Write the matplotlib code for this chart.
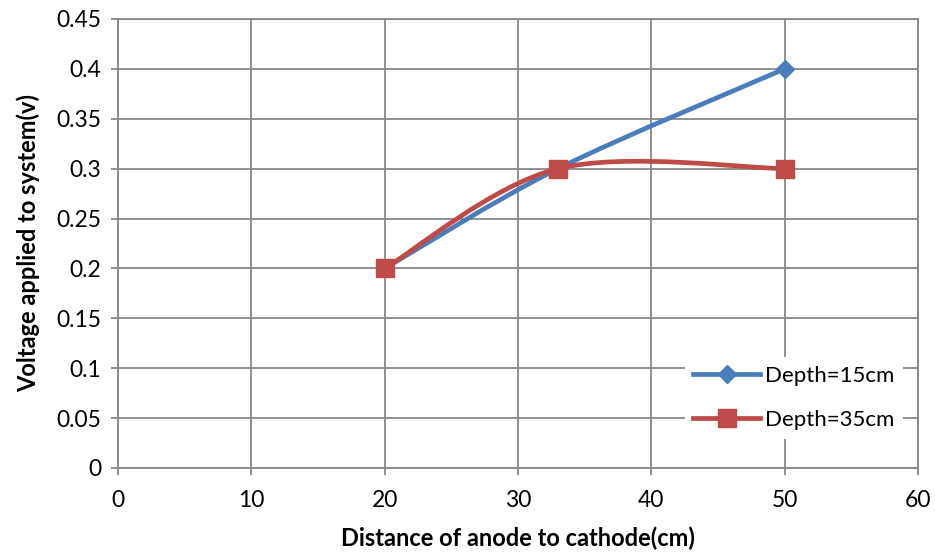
import matplotlib.pyplot as plt
from matplotlib.path import Path
from matplotlib.patches import PathPatch
from matplotlib.lines import Line2D
import numpy as np

plt.rcParams['font.family'] = ['Lato', 'DejaVu Sans']

x15 = [20, 33, 50]
y15 = [0.2, 0.3, 0.4]
x35 = [20, 33, 50]
y35 = [0.2, 0.3, 0.3]
xticks = [0, 10, 20, 30, 40, 50, 60]
yticks = [0, 0.05, 0.1, 0.15, 0.2, 0.25, 0.3, 0.35, 0.4, 0.45]
ylabels = ['0', '0.05', '0.1', '0.15', '0.2', '0.25', '0.3', '0.35', '0.4', '0.45']

blue = '#4A7EBB'
red = '#BE4B48'
grid = '#878787'


def smooth_path(xs, ys):
    # excel-style smoothed line: bezier segments through the points
    p = np.column_stack([xs, ys]).astype(float)
    n = len(p)
    verts = [p[0]]
    codes = [Path.MOVETO]
    for i in range(n - 1):
        prev = p[max(i - 1, 0)]
        nxt = p[min(i + 2, n - 1)]
        c1 = p[i] + (p[i + 1] - prev) / 6
        c2 = p[i + 1] - (nxt - p[i]) / 6
        verts += [c1, c2, p[i + 1]]
        codes += [Path.CURVE4] * 3
    return Path(verts, codes)


fig = plt.figure(figsize=(9.35, 5.58), dpi=100)
ax = fig.add_axes([0.1262, 0.1613, 0.8556, 0.8047])

ax.add_patch(PathPatch(smooth_path(x15, y15), fill=False, ec=blue, lw=3.4, zorder=3))
ax.plot(x15, y15, ls='none', marker='D', ms=9, color=blue, zorder=4)
ax.add_patch(PathPatch(smooth_path(x35, y35), fill=False, ec=red, lw=3.4, zorder=5))
ax.plot(x35, y35, ls='none', marker='s', ms=13, color=red, zorder=6)

ax.set_xlim(0, 60)
ax.set_ylim(0, 0.45)
ax.set_xticks(xticks)
ax.set_yticks(yticks)
ax.set_yticklabels(ylabels)
ax.grid(True, color=grid, lw=1.3)
ax.set_axisbelow(True)
for s in ax.spines.values():
    s.set_color(grid)
    s.set_linewidth(1.3)
ax.tick_params(colors=grid, labelcolor='black', labelsize=16.5, length=5, width=1.3)
ax.tick_params(axis='x', pad=11)
ax.tick_params(axis='y', pad=7)

ax.set_xlabel('Distance of anode to cathode(cm)', fontsize=17, fontweight='bold', labelpad=11)
ax.set_ylabel('Voltage applied to system(v)', fontsize=17, fontweight='bold', labelpad=12)

handles = [Line2D([], [], color=blue, lw=3.4, marker='D', ms=9),
           Line2D([], [], color=red, lw=3.4, marker='s', ms=13)]
leg = ax.legend(handles, ['Depth=15cm', 'Depth=35cm'], loc='lower right',
                bbox_to_anchor=(0.995, 0.04), fontsize=16, frameon=True,
                fancybox=False, handlelength=3.0, labelspacing=1.1,
                borderpad=0.4, handletextpad=0.2)
leg.get_frame().set_edgecolor('none')
leg.get_frame().set_facecolor('white')
leg.get_frame().set_alpha(1)

fig.savefig('out.png', dpi=100)
